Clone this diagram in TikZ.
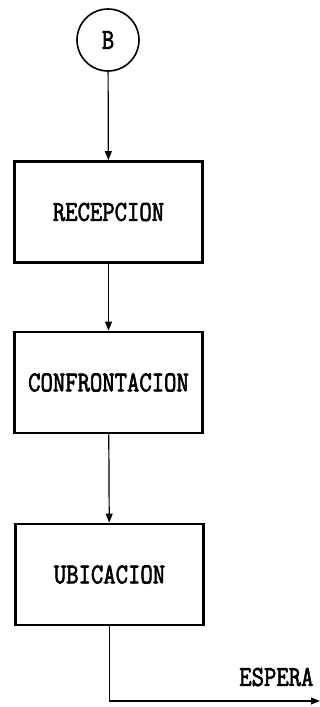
\documentclass[tikz,border=0pt]{standalone}
\usepackage{fontspec}
\usepackage{graphicx}
\newfontfamily\printfont[FakeBold=2.5]{Latin Modern Mono}
\newcommand{\prt}[1]{\scalebox{1}[1.2]{#1}}% tall printer lettering
\usetikzlibrary{arrows.meta}

\tikzset{
  stage/.style={draw, line width=2.8pt, minimum width=188pt, minimum height=101pt,
    inner sep=0pt, font=\printfont\fontsize{24}{24}\selectfont},
  link/.style={line width=1.2pt, -{Triangle[length=9pt,width=7pt]}},
  conn/.style={draw, circle, line width=1.6pt, minimum size=62pt, inner sep=0pt,
    font=\printfont\fontsize{24}{24}\selectfont}
}

\begin{document}
\begin{tikzpicture}[x=1pt,y=-1pt]
  \useasboundingbox (0,0) rectangle (320,707);
  % connector and the three process blocks
  \node[conn] (b) at (108,40) {\prt{B}};
  \node[stage] (rec) at (108.5,212) {\prt{RECEPCION}};
  \node[stage] (conf) at (108.5,382.5) {\prt{CONFRONTACION}};
  \node[stage] (ubi) at (109.5,574.5) {\prt{UBICACION}};
  % exit towards the waiting step
  \coordinate (bend) at (109.5,701);
  \coordinate (out) at (320,701);
  \node[font=\printfont\fontsize{24}{24}\selectfont, anchor=east] (esp) at (317,677) {\prt{ESPERA}};
  \draw[link] (b) -- (rec);
  \draw[link] (rec) -- (conf);
  \draw[link] (conf) -- (ubi);
  \draw[link] (ubi) -- (bend) -- (out);
\end{tikzpicture}
\end{document}
